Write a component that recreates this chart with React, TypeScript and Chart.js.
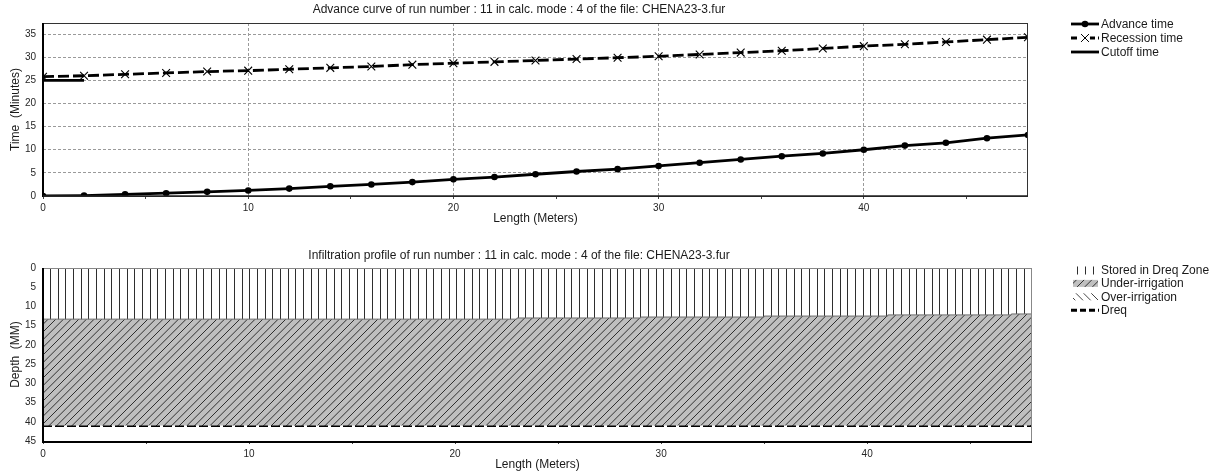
import React, { useEffect, useRef } from 'react';
import { Chart, registerables } from 'chart.js';

Chart.register(...registerables);

const FONT = '"Liberation Sans", Arial, Helvetica, sans-serif';
const WIDTH = 1224;

// ---- Advance curve ----
const advanceTitle = 'Advance curve of run number : 11 in calc. mode : 4 of the file: CHENA23-3.fur';
const stations = [0, 2, 4, 6, 8, 10, 12, 14, 16, 18, 20, 22, 24, 26, 28, 30, 32, 34, 36, 38, 40, 42, 44, 46, 48];
const advanceTime = [0, 0.1, 0.35, 0.6, 0.9, 1.2, 1.6, 2.1, 2.5, 3.0, 3.6, 4.1, 4.7, 5.3, 5.8, 6.5, 7.2, 7.9, 8.6, 9.2, 10.0, 10.9, 11.5, 12.5, 13.2];
const recessionTime = [25.8, 26.0, 26.3, 26.6, 26.9, 27.1, 27.4, 27.7, 28.0, 28.4, 28.7, 29.0, 29.3, 29.6, 29.9, 30.2, 30.6, 31.0, 31.4, 31.9, 32.4, 32.8, 33.3, 33.8, 34.3];
const cutoffStations = [0, 2];
const cutoffTime = [25, 25];
const lengthMax = 48;
const timeMax = 37.4;

// ---- Infiltration profile ----
const profileTitle = 'Infiltration profile of run number : 11 in calc. mode : 4 of the file: CHENA23-3.fur';
const profileStations = [0, 23, 29, 35, 41, 47, 48];
const storedDepth = [13.3, 13.0, 12.75, 12.5, 12.2, 11.95, 11.95];
const overIrrigationStations: number[] = [];
const overIrrigationDepth: number[] = [];
const dreqStations = [0, 48];
const dreqDepth = [41, 41];
const depthMax = 45;

const toPoints = (xs: number[], ys: number[]) => xs.map((x, i) => ({ x, y: ys[i] }));

// Hatch tiles used as fill patterns
function makeTile(w: number, h: number, paint: (g: CanvasRenderingContext2D) => void) {
  const c = document.createElement('canvas');
  c.width = w;
  c.height = h;
  const g = c.getContext('2d') as CanvasRenderingContext2D;
  paint(g);
  return c;
}

function verticalHatch(ctx: CanvasRenderingContext2D) {
  const tile = makeTile(23, 8, (g) => {
    g.strokeStyle = '#2e2e2e';
    g.lineWidth = 1;
    [4, 12, 19].forEach((x) => {
      g.beginPath();
      g.moveTo(x + 0.5, 0);
      g.lineTo(x + 0.5, 8);
      g.stroke();
    });
  });
  return ctx.createPattern(tile, 'repeat') as CanvasPattern;
}

function forwardHatch(ctx: CanvasRenderingContext2D) {
  const s = 23;
  const tile = makeTile(s, s, (g) => {
    g.fillStyle = '#bfbfbf';
    g.fillRect(0, 0, s, s);
    g.strokeStyle = '#2f2f2f';
    g.lineWidth = 1;
    for (let k = -1; k <= 7; k++) {
      const c = (k * s) / 3;
      g.beginPath();
      g.moveTo(c + 3, -3);
      g.lineTo(c - s - 3, s + 3);
      g.stroke();
    }
  });
  return ctx.createPattern(tile, 'repeat') as CanvasPattern;
}

function backHatch(ctx: CanvasRenderingContext2D) {
  const s = 23;
  const tile = makeTile(s, s, (g) => {
    g.strokeStyle = '#444';
    g.lineWidth = 1;
    for (let k = -4; k <= 4; k++) {
      const c = (k * s) / 3;
      g.beginPath();
      g.moveTo(c - 3, -3);
      g.lineTo(c + s + 3, s + 3);
      g.stroke();
    }
  });
  return ctx.createPattern(tile, 'repeat') as CanvasPattern;
}

type DecorCfg = {
  title: string;
  titleY: number;
  legendY: number;
  legendStep: number;
  frame: 'advance' | 'profile';
};

function drawLegendSample(ctx: CanvasRenderingContext2D, ds: any, y: number) {
  const x0 = 1071;
  const x1 = 1099;
  ctx.save();
  if (ds.legendKind === 'fill') {
    ctx.fillStyle = ds.backgroundColor;
    if (ds.legendNarrow) ctx.fillRect(x0 + 1, y - 3.5, 22, 8);
    else ctx.fillRect(x0 + 2, y - 3.5, 25, 7);
  } else {
    ctx.strokeStyle = '#000';
    ctx.lineWidth = ds.borderWidth;
    ctx.setLineDash(ds.legendDash || ds.borderDash || []);
    ctx.beginPath();
    ctx.moveTo(x0, y);
    ctx.lineTo(x1, y);
    ctx.stroke();
    ctx.setLineDash([]);
    const cx = (x0 + x1) / 2;
    if (ds.pointStyle === 'circle' && ds.pointRadius > 0) {
      ctx.fillStyle = '#000';
      ctx.beginPath();
      ctx.arc(cx, y, ds.pointRadius, 0, Math.PI * 2);
      ctx.fill();
    } else if (ds.pointStyle === 'crossRot' && ds.pointRadius > 0) {
      const r = ds.pointRadius * 0.72;
      ctx.fillStyle = '#fff';
      ctx.fillRect(cx - r - 1, y - 2, 2 * r + 2, 4);
      ctx.lineWidth = 1;
      ctx.beginPath();
      ctx.moveTo(cx - r, y - r);
      ctx.lineTo(cx + r, y + r);
      ctx.moveTo(cx - r, y + r);
      ctx.lineTo(cx + r, y - r);
      ctx.stroke();
    }
  }
  ctx.restore();
}

function makeDecor(cfg: DecorCfg) {
  return {
    id: 'decor',
    beforeDraw(chart: any) {
      const { ctx } = chart;
      ctx.save();
      ctx.fillStyle = '#fff';
      ctx.fillRect(0, 0, chart.width, chart.height);
      ctx.restore();
    },
    afterDraw(chart: any) {
      const { ctx, chartArea: a } = chart;
      ctx.save();
      // plot frame
      if (cfg.frame === 'advance') {
        ctx.strokeStyle = '#333';
        ctx.lineWidth = 1;
        ctx.strokeRect(a.left + 0.5, a.top + 0.5, a.right - a.left - 1, a.bottom - a.top);
        ctx.strokeStyle = '#000';
        ctx.lineWidth = 2;
        ctx.beginPath();
        ctx.moveTo(a.left, a.top);
        ctx.lineTo(a.left, a.bottom + 1);
        ctx.stroke();
        ctx.lineWidth = 1.5;
        ctx.strokeStyle = '#222';
        ctx.beginPath();
        ctx.moveTo(a.left, a.bottom);
        ctx.lineTo(a.right, a.bottom);
        ctx.stroke();
      } else {
        ctx.strokeStyle = '#888';
        ctx.lineWidth = 1;
        ctx.strokeRect(a.left + 0.5, a.top + 0.5, a.right - a.left - 1, a.bottom - a.top);
        ctx.strokeStyle = '#000';
        ctx.lineWidth = 2;
        ctx.beginPath();
        ctx.moveTo(a.left, a.top);
        ctx.lineTo(a.left, a.bottom + 1);
        ctx.lineTo(a.right, a.bottom + 1);
        ctx.stroke();
      }
      // title
      ctx.fillStyle = '#1a1a1a';
      ctx.font = `12px ${FONT}`;
      ctx.textAlign = 'center';
      ctx.textBaseline = 'middle';
      ctx.fillText(cfg.title, 519, cfg.titleY);
      // legend
      ctx.font = `12px ${FONT}`;
      ctx.textAlign = 'left';
      chart.data.datasets.forEach((ds: any, i: number) => {
        const y = cfg.legendY + i * cfg.legendStep;
        drawLegendSample(ctx, ds, y);
        ctx.fillStyle = '#1a1a1a';
        ctx.fillText(ds.label, 1101, y + 0.5);
      });
      ctx.restore();
    },
  };
}

const tickFont = { family: FONT, size: 10 };
const titleFont = { family: FONT, size: 12 };
const tickColor = '#262626';

function AdvanceChart() {
  const ref = useRef<HTMLCanvasElement>(null);
  useEffect(() => {
    const canvas = ref.current as HTMLCanvasElement;
    const chart = new Chart(canvas, {
      type: 'line',
      data: {
        datasets: [
          {
            label: 'Advance time',
            data: toPoints(stations, advanceTime),
            borderColor: '#000',
            backgroundColor: '#000',
            borderWidth: 2.8,
            pointStyle: 'circle',
            pointRadius: 3.3,
            pointBackgroundColor: '#000',
            pointBorderColor: '#000',
            pointBorderWidth: 0,
            fill: false,
            legendKind: 'line',
          } as any,
          {
            label: 'Recession time',
            data: toPoints(stations, recessionTime),
            borderColor: '#000',
            borderWidth: 2.8,
            borderDash: [11, 4],
            legendDash: [6, 3],
            pointStyle: 'crossRot',
            pointRadius: 5.5,
            pointBorderColor: '#000',
            pointBorderWidth: 1.1,
            fill: false,
            legendKind: 'line',
          } as any,
          {
            label: 'Cutoff time',
            data: toPoints(cutoffStations, cutoffTime),
            borderColor: '#000',
            borderWidth: 2.8,
            pointRadius: 0,
            fill: false,
            legendKind: 'line',
          } as any,
        ],
      },
      options: {
        responsive: false,
        animation: false,
        parsing: false as any,
        layout: { padding: { top: 23, right: WIDTH - 1028, left: 0, bottom: 0 } },
        plugins: { legend: { display: false }, title: { display: false }, tooltip: { enabled: false } },
        events: [],
        scales: {
          x: {
            type: 'linear',
            min: 0,
            max: lengthMax,
            afterFit: (s: any) => {
              s.height = 41;
            },
            ticks: {
              stepSize: 5,
              includeBounds: false,
              autoSkip: false,
              maxRotation: 0,
              padding: 3,
              font: tickFont,
              color: tickColor,
              callback: (v: any) => (Number(v) % 10 === 0 ? String(v) : ''),
            },
            grid: {
              color: (c: any) => (c.tick && c.tick.value % 10 === 0 && c.tick.value > 0 ? '#9a9a9a' : 'rgba(0,0,0,0)'),
              tickColor: '#444',
              tickLength: 3,
              drawTicks: true,
              lineWidth: 1,
            },
            border: { display: false, dash: [3, 2] },
            title: { display: true, text: 'Length (Meters)', font: titleFont, color: '#1a1a1a', padding: { top: 0, bottom: 11 } },
          },
          y: {
            type: 'linear',
            min: 0,
            max: timeMax,
            afterFit: (s: any) => {
              s.width = 43;
            },
            ticks: { stepSize: 5, includeBounds: false, padding: 4, font: tickFont, color: tickColor },
            grid: {
              color: (c: any) => (c.tick && c.tick.value > 0 ? '#9a9a9a' : 'rgba(0,0,0,0)'),
              tickColor: 'rgba(0,0,0,0)',
              tickLength: 3,
              lineWidth: 1,
            },
            border: { display: false, dash: [3, 2] },
            title: { display: true, text: 'Time  (Minutes)', font: titleFont, color: '#1a1a1a', padding: { top: 8, bottom: 0 } },
          },
        },
      } as any,
      plugins: [makeDecor({ title: advanceTitle, titleY: 10, legendY: 24, legendStep: 14, frame: 'advance' }) as any],
    });
    return () => chart.destroy();
  }, []);
  return <canvas ref={ref} width={WIDTH} height={237} style={{ display: 'block' }} />;
}

function ProfileChart() {
  const ref = useRef<HTMLCanvasElement>(null);
  useEffect(() => {
    const canvas = ref.current as HTMLCanvasElement;
    const ctx = canvas.getContext('2d') as CanvasRenderingContext2D;
    const stored = toPoints(profileStations, storedDepth);
    const chart = new Chart(canvas, {
      type: 'line',
      data: {
        datasets: [
          {
            label: 'Stored in Dreq Zone',
            data: stored,
            stepped: 'before',
            borderColor: '#6e6e6e',
            borderWidth: 1,
            backgroundColor: verticalHatch(ctx),
            pointRadius: 0,
            fill: { value: 0 },
            legendKind: 'fill',
            legendNarrow: true,
          } as any,
          {
            label: 'Under-irrigation',
            data: stored,
            stepped: 'before',
            borderColor: 'rgba(0,0,0,0)',
            borderWidth: 0,
            backgroundColor: forwardHatch(ctx),
            pointRadius: 0,
            fill: { value: dreqDepth[0] },
            legendKind: 'fill',
          } as any,
          {
            label: 'Over-irrigation',
            data: toPoints(overIrrigationStations, overIrrigationDepth),
            borderColor: 'rgba(0,0,0,0)',
            borderWidth: 0,
            backgroundColor: backHatch(ctx),
            pointRadius: 0,
            fill: { value: dreqDepth[0] },
            legendKind: 'fill',
          } as any,
          {
            label: 'Dreq',
            data: toPoints(dreqStations, dreqDepth),
            borderColor: '#000',
            borderWidth: 3,
            borderDash: [9, 3],
            legendDash: [6, 3],
            pointRadius: 0,
            fill: false,
            legendKind: 'line',
          } as any,
        ],
      },
      options: {
        responsive: false,
        animation: false,
        parsing: false as any,
        layout: { padding: { top: 31, right: WIDTH - 1032, left: 0, bottom: 0 } },
        plugins: { legend: { display: false }, title: { display: false }, tooltip: { enabled: false } },
        events: [],
        scales: {
          x: {
            type: 'linear',
            min: 0,
            max: lengthMax,
            afterFit: (s: any) => {
              s.height = 34;
            },
            ticks: {
              stepSize: 5,
              includeBounds: false,
              autoSkip: false,
              maxRotation: 0,
              padding: 4,
              font: tickFont,
              color: tickColor,
              callback: (v: any) => (Number(v) % 10 === 0 ? String(v) : ''),
            },
            grid: { drawOnChartArea: false, tickColor: '#444', tickLength: 3, drawTicks: true },
            border: { display: false },
            title: { display: true, text: 'Length (Meters)', font: titleFont, color: '#1a1a1a', padding: { top: 0, bottom: 3 } },
          },
          y: {
            type: 'linear',
            reverse: true,
            min: 0,
            max: depthMax,
            afterFit: (s: any) => {
              s.width = 43;
            },
            ticks: { stepSize: 5, includeBounds: false, padding: 4, font: tickFont, color: tickColor },
            grid: { drawOnChartArea: false, tickColor: 'rgba(0,0,0,0)', tickLength: 3 },
            border: { display: false },
            title: { display: true, text: 'Depth  (MM)', font: titleFont, color: '#1a1a1a', padding: { top: 8, bottom: 0 } },
          },
        },
      } as any,
      plugins: [makeDecor({ title: profileTitle, titleY: 19, legendY: 33, legendStep: 13.4, frame: 'profile' }) as any],
    });
    return () => chart.destroy();
  }, []);
  return <canvas ref={ref} width={WIDTH} height={238} style={{ display: 'block' }} />;
}

export default function App() {
  return (
    <div style={{ position: 'absolute', left: 0, top: 0, width: WIDTH, height: 475, background: '#fff' }}>
      <AdvanceChart />
      <ProfileChart />
    </div>
  );
}
